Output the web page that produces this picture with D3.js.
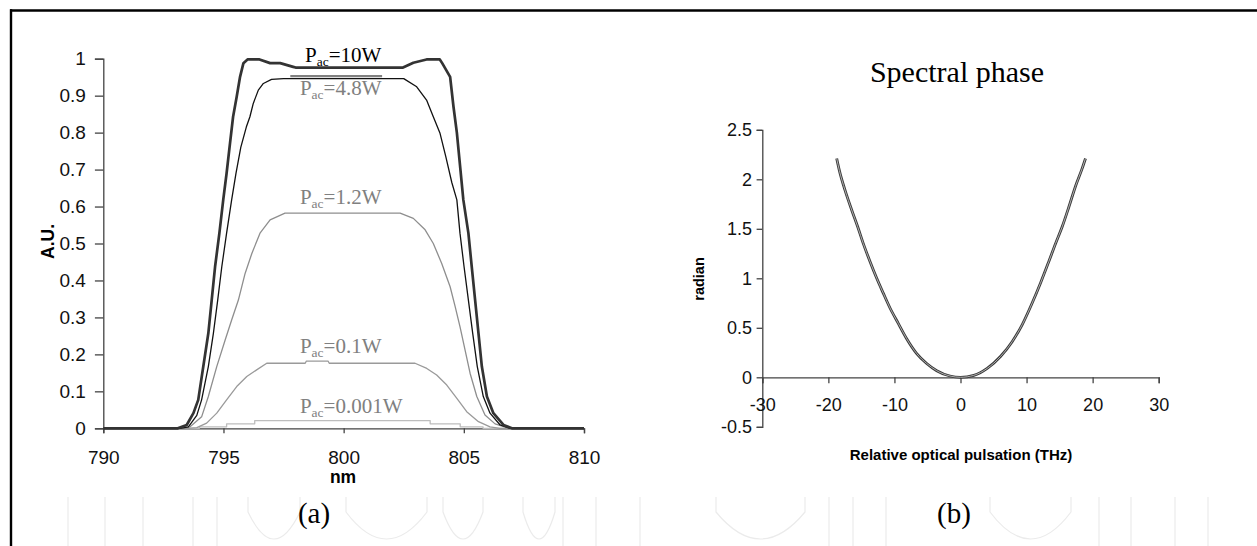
<!DOCTYPE html>
<html>
  <head>
    <meta charset="utf-8">
    <title>Spectrum and spectral phase</title>
    <script type="text/javascript" src="https://d3js.org/d3.v7.min.js"></script>
    <style>
      html, body { margin: 0; background: #fff; }
      svg { display: block; }
    </style>
  </head>
  <body>
    <script>

    // ---- (a) spectra, x in nm, y in A.U. ----
    var nm10 = [790, 793.1, 793.47, 793.75, 793.95, 794.16, 794.37, 794.51, 794.65, 794.83, 794.99, 795.13, 795.27, 795.4, 795.55, 795.69, 795.83, 796.0, 796.5, 796.94, 797.36, 797.9, 798.0, 802.47, 802.9, 803.45, 804.0, 804.1, 804.43, 804.57, 804.71, 804.98, 805.19, 805.33, 805.47, 805.61, 805.75, 805.96, 806.23, 806.65, 807.0, 810];
    var au10 = [0, 0, 0.009, 0.041, 0.077, 0.167, 0.257, 0.347, 0.437, 0.528, 0.618, 0.69, 0.77, 0.843, 0.897, 0.951, 0.988, 0.998, 0.998, 0.988, 0.988, 0.978, 0.976, 0.976, 0.989, 0.998, 0.998, 0.988, 0.951, 0.87, 0.8, 0.618, 0.528, 0.437, 0.347, 0.257, 0.167, 0.086, 0.041, 0.009, 0, 0];

    var nm48 = [790, 793.2, 793.54, 793.89, 794.09, 794.37, 794.58, 794.76, 794.93, 795.13, 795.34, 795.52, 795.72, 795.95, 796.1, 796.24, 796.45, 796.66, 797.0, 797.5, 802.5, 803.04, 803.45, 803.73, 804.01, 804.25, 804.5, 804.71, 804.84, 805.01, 805.19, 805.37, 805.56, 805.81, 806.09, 806.51, 806.92, 810];
    var au48 = [0, 0, 0.004, 0.035, 0.077, 0.167, 0.257, 0.347, 0.437, 0.528, 0.618, 0.69, 0.76, 0.815, 0.843, 0.879, 0.915, 0.933, 0.944, 0.946, 0.946, 0.924, 0.888, 0.843, 0.798, 0.735, 0.665, 0.618, 0.528, 0.437, 0.347, 0.257, 0.167, 0.086, 0.041, 0.009, 0, 0];

    // short grey piece lying on top of the 4.8W plateau
    var nm48top = [797.78, 801.6];
    var au48top = [0.953, 0.953];

    var nm12 = [790, 793.3, 793.61, 794.09, 794.37, 794.72, 795.07, 795.34, 795.62, 795.9, 796.18, 796.52, 796.94, 797.56, 802.35, 802.9, 803.39, 803.73, 804.08, 804.43, 804.64, 804.84, 805.05, 805.26, 805.54, 805.88, 806.3, 806.79, 807, 810];
    var au12 = [0, 0, 0.004, 0.031, 0.086, 0.167, 0.239, 0.293, 0.347, 0.419, 0.473, 0.528, 0.564, 0.582, 0.582, 0.568, 0.537, 0.5, 0.446, 0.383, 0.329, 0.275, 0.212, 0.149, 0.086, 0.036, 0.012, 0.002, 0, 0];

    var nm01 = [790, 793.5, 793.89, 794.3, 794.72, 795.13, 795.55, 795.97, 796.38, 796.8, 798.4, 798.45, 799.35, 799.4, 802.97, 803.46, 803.87, 804.29, 804.71, 805.12, 805.61, 806.09, 806.5, 810];
    var au01 = [0, 0, 0.002, 0.014, 0.041, 0.077, 0.113, 0.14, 0.158, 0.176, 0.176, 0.182, 0.182, 0.176, 0.176, 0.162, 0.144, 0.117, 0.081, 0.045, 0.018, 0.004, 0, 0];

    var nm0001 = [790, 794.0, 794.0, 795.13, 795.13, 796.3, 796.3, 803.6, 803.6, 804.85, 804.85, 805.8, 805.8, 810];
    var au0001 = [0, 0, 0.004, 0.004, 0.012, 0.012, 0.021, 0.021, 0.012, 0.012, 0.004, 0.004, 0, 0];

    var spectraTicksX = [790, 795, 800, 805, 810];
    var spectraTicksY = [0, 0.1, 0.2, 0.3, 0.4, 0.5, 0.6, 0.7, 0.8, 0.9, 1];

    var labelPower = ["10W", "4.8W", "1.2W", "0.1W", "0.001W"];
    var labelNm    = [798.39, 798.18, 798.18, 798.18, 798.18];
    var labelAU    = [0.991, 0.902, 0.607, 0.205, 0.041];

    // ---- (b) spectral phase ----
    var thz = [-18.74, -18.34, -17.48, -16.47, -15.56, -14.71, -13.7, -12.68, -11.69, -10.67, -9.42, -8.15, -6.63, -5.12, -3.6, -1.59, 0, 2.02, 4.04, 6.05, 7.82, 9.33, 10.85, 12.1, 13.37, 14.38, 15.39, 16.4, 17.41, 18.42, 18.92];
    var rad = [2.21, 2.09, 1.89, 1.69, 1.52, 1.35, 1.17, 1.0, 0.85, 0.7, 0.545, 0.39, 0.24, 0.14, 0.067, 0.013, 0, 0.02, 0.09, 0.21, 0.36, 0.53, 0.75, 0.95, 1.17, 1.35, 1.52, 1.72, 1.93, 2.11, 2.21];

    var phaseTicksX = [-30, -20, -10, 0, 10, 20, 30];
    var phaseTicksY = [-0.5, 0, 0.5, 1, 1.5, 2, 2.5];

    var W = 1257, H = 546;
    var sans = "'Liberation Sans', Arial, sans-serif";
    var serif = "'Liberation Serif', 'Times New Roman', serif";
    var plain = function(d) { return String(d); };   // keeps the ASCII hyphen for negatives

    var svg = d3.select("body").append("svg")
                .attr("width", W)
                .attr("height", H);

    // faint watermark outlines at the bottom
    var wmLines = [68, 105, 143, 193, 217, 563, 596, 640, 829, 853, 886, 1099, 1131, 1175, 1208];
    var wmArcs = [[248, 300], [443, 483], [716, 805], [523, 555], [990, 1071], [346, 427]];
    var wm = svg.append("g").attr("stroke", "#ebebeb").attr("fill", "none").attr("stroke-width", 1.2);
    wm.selectAll("line").data(wmLines).enter().append("line")
      .attr("x1", function(d) { return d; }).attr("x2", function(d) { return d; })
      .attr("y1", 497).attr("y2", H);
    wm.selectAll("path").data(wmArcs).enter().append("path")
      .attr("d", function(d) {
        var m = (d[0] + d[1]) / 2;
        return "M" + d[0] + ",497 L" + d[0] + ",512 Q" + m + ",566 " + d[1] + ",512 L" + d[1] + ",497";
      });

    // frame (top and left only)
    svg.append("line").attr("x1", 10).attr("x2", W).attr("y1", 10.5).attr("y2", 10.5)
       .attr("stroke", "#000").attr("stroke-width", 2.4);
    svg.append("line").attr("x1", 11).attr("x2", 11).attr("y1", 9.3).attr("y2", H)
       .attr("stroke", "#000").attr("stroke-width", 2.4);

    // ================= (a) =================
    var xA = d3.scaleLinear().domain([790, 810]).range([103.3, 584]);
    var yA = d3.scaleLinear().domain([0, 1]).range([428.3, 58.7]);

    var gA = svg.append("g");

    var axA = gA.append("g").attr("transform", "translate(" + xA(790) + ",0)")
      .call(d3.axisLeft(yA).tickValues(spectraTicksY).tickSize(8.4).tickPadding(9).tickFormat(plain));
    var axB = gA.append("g").attr("transform", "translate(0," + yA(0) + ")")
      .call(d3.axisBottom(xA).tickValues(spectraTicksX).tickSize(5).tickPadding(17.4).tickFormat(plain));
    [axA, axB].forEach(function(ax) {
      ax.select(".domain").attr("stroke", "#444").attr("stroke-width", 1.3);
      ax.selectAll(".tick line").attr("stroke", "#444").attr("stroke-width", 1.3);
      ax.selectAll("text").attr("fill", "#111").style("font-family", sans).style("font-size", "19px");
    });

    var lineA = d3.line()
      .x(function(d) { return xA(d[0]); })
      .y(function(d) { return yA(d[1]); });

    var series = [
      { nm: nm0001, au: au0001, color: "#bdbdbd", width: 1.3 },
      { nm: nm01,   au: au01,   color: "#9a9a9a", width: 1.3 },
      { nm: nm12,   au: au12,   color: "#8e8e8e", width: 1.3 },
      { nm: nm48top, au: au48top, color: "#808080", width: 2.2 },
      { nm: nm48,   au: au48,   color: "#111111", width: 1.3 },
      { nm: nm10,   au: au10,   color: "#333333", width: 2.7 }
    ];
    gA.selectAll("path.spec").data(series).enter().append("path")
      .attr("class", "spec")
      .attr("fill", "none")
      .attr("stroke", function(d) { return d.color; })
      .attr("stroke-width", function(d) { return d.width; })
      .attr("stroke-linejoin", "round")
      .attr("d", function(d) { return lineA(d.nm.map(function(v, i) { return [v, d.au[i]]; })); });

    labelPower.forEach(function(p, i) {
      var t = gA.append("text")
        .attr("x", xA(labelNm[i])).attr("y", yA(labelAU[i]))
        .attr("fill", i === 0 ? "#000" : "#808080")
        .style("font-family", serif).style("font-size", "21px");
      t.append("tspan").text("P");
      t.append("tspan").attr("dy", 4.3).style("font-size", "13.5px").text("ac");
      t.append("tspan").attr("dy", -4.3).text("=" + p);
    });

    gA.append("text")
      .attr("transform", "translate(54," + 241.5 + ") rotate(-90)")
      .attr("text-anchor", "middle")
      .style("font-family", sans).style("font-weight", "bold").style("font-size", "17.5px")
      .text("A.U.");
    gA.append("text")
      .attr("x", 343).attr("y", 483)
      .attr("text-anchor", "middle")
      .style("font-family", sans).style("font-weight", "bold").style("font-size", "17.5px")
      .text("nm");
    gA.append("text")
      .attr("x", 314).attr("y", 523)
      .attr("text-anchor", "middle")
      .style("font-family", serif).style("font-size", "29px")
      .text("(a)");

    // ================= (b) =================
    var xB = d3.scaleLinear().domain([-30, 30]).range([762.3, 1158.7]);
    var yB = d3.scaleLinear().domain([-0.5, 2.5]).range([426.8, 129.8]);

    var gB = svg.append("g");

    var ayB = gB.append("g").attr("transform", "translate(" + xB(-30) + ",0)")
      .call(d3.axisLeft(yB).tickValues(phaseTicksY).tickSize(5.7).tickPadding(4.6).tickFormat(plain));
    var axBb = gB.append("g").attr("transform", "translate(0," + yB(0) + ")")
      .call(d3.axisBottom(xB).tickValues(phaseTicksX).tickSize(6).tickPadding(15).tickFormat(plain));
    [ayB, axBb].forEach(function(ax) {
      ax.select(".domain").attr("stroke", "#444").attr("stroke-width", 1.3);
      ax.selectAll(".tick line").attr("stroke", "#444").attr("stroke-width", 1.3);
      ax.selectAll("text").attr("fill", "#111").style("font-family", sans).style("font-size", "18px");
    });

    var lineB = d3.line()
      .curve(d3.curveMonotoneX)
      .x(function(d, i) { return xB(d); })
      .y(function(d, i) { return yB(rad[i]); });

    gB.append("path").attr("d", lineB(thz))
      .attr("fill", "none").attr("stroke", "#3a3a3a").attr("stroke-width", 2.8);
    gB.append("path").attr("d", lineB(thz))
      .attr("fill", "none").attr("stroke", "#b0b0b0").attr("stroke-width", 1);

    gB.append("text")
      .attr("x", 957).attr("y", 81.7)
      .attr("text-anchor", "middle")
      .style("font-family", serif).style("font-size", "30px")
      .text("Spectral phase");
    gB.append("text")
      .attr("transform", "translate(704,279) rotate(-90)")
      .attr("text-anchor", "middle")
      .style("font-family", sans).style("font-weight", "bold").style("font-size", "14.5px")
      .text("radian");
    gB.append("text")
      .attr("x", 961).attr("y", 460)
      .attr("text-anchor", "middle")
      .style("font-family", sans).style("font-weight", "bold").style("font-size", "15px")
      .text("Relative optical pulsation (THz)");
    gB.append("text")
      .attr("x", 954).attr("y", 523)
      .attr("text-anchor", "middle")
      .style("font-family", serif).style("font-size", "29px")
      .text("(b)");

    </script>
  </body>
</html>
